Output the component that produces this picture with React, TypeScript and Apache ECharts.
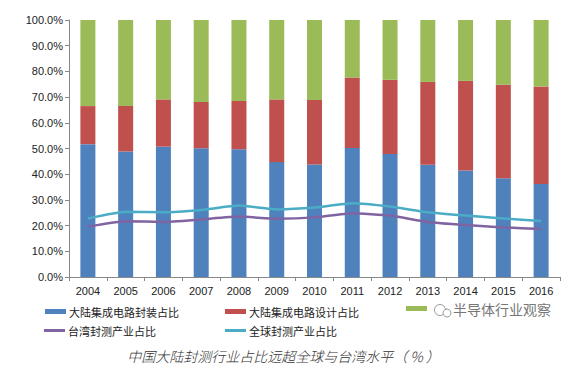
import React, { useEffect, useRef } from "react";
import * as echarts from "echarts";

const years = ["2004", "2005", "2006", "2007", "2008", "2009", "2010", "2011", "2012", "2013", "2014", "2015", "2016"];
const packaging = [51.7, 48.8, 50.7, 50.1, 49.7, 44.7, 43.8, 50.2, 47.9, 43.7, 41.4, 38.4, 36.2];
const design = [14.8, 17.7, 18.4, 18.0, 18.8, 24.4, 25.1, 27.4, 28.8, 32.2, 34.9, 36.4, 37.9];
const manufacturing = [33.5, 33.5, 30.9, 31.9, 31.5, 30.9, 31.1, 22.4, 23.3, 24.1, 23.7, 25.2, 25.9];
const taiwanShare = [19.6, 21.7, 21.4, 22.4, 23.5, 22.7, 23.2, 24.8, 23.9, 21.4, 20.2, 19.3, 18.7];
const globalShare = [22.8, 25.4, 25.2, 26.1, 27.8, 26.3, 27.0, 28.7, 27.4, 25.2, 23.9, 22.8, 21.8];

const names = ["大陆集成电路封装占比", "大陆集成电路设计占比", "大陆集成电路制造占比", "台湾封测产业占比", "全球封测产业占比"];
const colors = ["#4F81BD", "#C0504D", "#9BBB59", "#8064A2", "#4BACC6"];
const caption = "中国大陆封测行业占比远超全球与台湾水平（ % ）";
const watermark = "半导体行业观察";

export default function App() {
  const ref = useRef<HTMLDivElement>(null);
  useEffect(() => {
    if (!ref.current) return;
    const chart = echarts.init(ref.current, null, { renderer: "svg" });
    const legendText = { fontSize: 11, color: "#222", fontFamily: "Noto Sans CJK SC" };
    const mkLegend = (i: number, left: number, top: number, isLine: boolean, hideText = false) => ({
      left,
      top,
      data: [{ name: names[i], icon: "rect" }],
      itemWidth: 21,
      itemHeight: isLine ? 3 : 5,
      itemGap: 0,
      textStyle: { ...legendText, padding: [0, 0, 0, -2] },
      formatter: hideText ? () => "" : undefined,
      selectedMode: false,
    });
    chart.setOption({
      animation: false,
      color: colors,
      grid: { left: 69, top: 20, right: 7, bottom: 101 },
      legend: [
        mkLegend(0, 40, 301, false),
        mkLegend(1, 220, 301, false),
        mkLegend(2, 401, 301, false, true),
        mkLegend(3, 39, 320, true),
        mkLegend(4, 220, 320, true),
      ],
      xAxis: {
        type: "category",
        data: years,
        axisLine: { lineStyle: { color: "#888", width: 1 } },
        axisTick: { show: true, alignWithLabel: false, length: 4, lineStyle: { color: "#888" } },
        axisLabel: { fontSize: 11, color: "#222", fontFamily: "Liberation Sans", margin: 8 },
      },
      yAxis: {
        type: "value",
        min: 0,
        max: 100,
        interval: 10,
        axisLine: { show: true, lineStyle: { color: "#888", width: 1 } },
        axisTick: { show: true, length: 4, lineStyle: { color: "#888" } },
        splitLine: { show: false },
        axisLabel: {
          fontSize: 11,
          color: "#222",
          fontFamily: "Liberation Sans",
          margin: 6,
          formatter: (v: number) => v.toFixed(1) + "%",
        },
      },
      series: [
        { name: names[0], type: "bar", stack: "s", data: packaging, barWidth: 15, itemStyle: { color: colors[0] } },
        { name: names[1], type: "bar", stack: "s", data: design, barWidth: 15, itemStyle: { color: colors[1] } },
        { name: names[2], type: "bar", stack: "s", data: manufacturing, barWidth: 15, itemStyle: { color: colors[2] } },
        {
          name: names[3],
          type: "line",
          data: taiwanShare,
          showSymbol: false,
          smooth: 0.15,
          lineStyle: { width: 2.5, color: colors[3] },
          itemStyle: { color: colors[3] },
        },
        {
          name: names[4],
          type: "line",
          data: globalShare,
          showSymbol: false,
          smooth: 0.15,
          lineStyle: { width: 2.5, color: colors[4] },
          itemStyle: { color: colors[4] },
        },
      ],
      graphic: [
        {
          type: "circle",
          x: 440,
          y: 310,
          shape: { r: 5.5 },
          style: { fill: "none", stroke: "#999", lineWidth: 1 },
          z: 101,
        },
        {
          type: "circle",
          x: 447,
          y: 313,
          shape: { r: 4 },
          style: { fill: "#fff", stroke: "#999", lineWidth: 1 },
          z: 101,
        },
        {
          type: "text",
          x: 453,
          y: 302,
          style: { text: watermark, fontSize: 14, fill: "#777", fontFamily: "Noto Sans CJK SC" },
          z: 101,
        },
        {
          type: "text",
          left: "center",
          top: 349,
          style: {
            text: caption,
            fontSize: 14,
            fontStyle: "italic",
            fill: "#333",
            fontFamily: "Noto Sans CJK SC",
            fontWeight: 300,
          },
        },
      ],
    });
    return () => chart.dispose();
  }, []);
  return <div ref={ref} style={{ width: 567, height: 378, position: "absolute", left: 0, top: 0 }} />;
}
